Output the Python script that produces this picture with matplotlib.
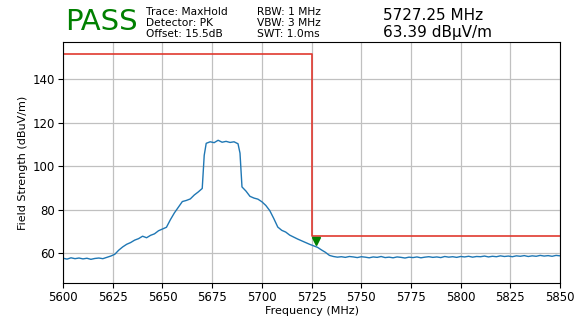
import matplotlib
matplotlib.use("Agg")
import matplotlib.pyplot as plt

# trace (MHz, dBuV/m)
freq = [5600, 5602, 5604, 5606, 5608, 5610, 5612, 5614, 5616, 5618,
        5620, 5622, 5624, 5626, 5628, 5630, 5632, 5634, 5636, 5638,
        5640, 5642, 5644, 5646, 5648, 5650, 5652, 5654, 5656, 5658,
        5660, 5662, 5664, 5666, 5668, 5670, 5671, 5672, 5674, 5676,
        5678, 5680, 5682, 5684, 5686, 5688, 5689, 5690, 5692, 5694,
        5696, 5698, 5700, 5702, 5704, 5706, 5708, 5710, 5712, 5714,
        5716, 5718, 5720, 5722, 5724, 5726, 5728, 5730, 5732, 5734,
        5736, 5738, 5740, 5742, 5744, 5746, 5748, 5750, 5752, 5754,
        5756, 5758, 5760, 5762, 5764, 5766, 5768, 5770, 5772, 5774,
        5776, 5778, 5780, 5782, 5784, 5786, 5788, 5790, 5792, 5794,
        5796, 5798, 5800, 5802, 5804, 5806, 5808, 5810, 5812, 5814,
        5816, 5818, 5820, 5822, 5824, 5826, 5828, 5830, 5832, 5834,
        5836, 5838, 5840, 5842, 5844, 5846, 5848, 5850]
level = [57.8, 57.4, 58.0, 57.6, 57.9, 57.5, 57.8, 57.3, 57.7, 57.9,
         57.6, 58.2, 58.8, 59.6, 61.5, 63.0, 64.2, 65.0, 66.1, 66.8,
         67.9, 67.2, 68.3, 69.0, 70.4, 71.2, 72.0, 75.5, 78.6, 81.2,
         83.8, 84.3, 85.0, 86.8, 88.2, 89.8, 105.0, 110.5, 111.2, 110.8,
         111.9, 111.0, 111.4, 110.9, 111.2, 110.3, 106.0, 90.5, 88.6, 86.2,
         85.4, 84.9, 83.7, 82.0, 79.6, 76.0, 72.1, 70.6, 69.8, 68.4,
         67.5, 66.6, 65.8, 65.0, 64.2, 63.5, 62.8, 61.6, 60.5, 59.1,
         58.6, 58.3, 58.5, 58.2, 58.6, 58.4, 58.1, 58.5, 58.3, 58.0,
         58.4, 58.2, 58.6, 58.1, 58.3, 58.0, 58.4, 58.2, 57.9, 58.3,
         58.1, 58.4, 58.0, 58.3, 58.5, 58.2, 58.4, 58.1, 58.6, 58.3,
         58.5, 58.2, 58.6, 58.4, 58.7, 58.3, 58.6, 58.5, 58.8, 58.4,
         58.7, 58.5, 58.9, 58.6, 58.8, 58.5, 58.9, 58.7, 59.0, 58.6,
         58.9, 58.7, 59.1, 58.8, 59.0, 58.7, 59.1, 58.9]

# limit line
limit_f = [5600, 5725, 5725, 5850]
limit_v = [151.5, 151.5, 68.2, 68.2]

marker_f = 5727.25
marker_v = 63.39

fig = plt.figure(figsize=(5.84, 3.2), dpi=100)
ax = fig.add_axes([0.108, 0.116, 0.851, 0.753])

ax.plot(freq, level, color='#1f77b4', lw=1.0)
ax.plot(limit_f, limit_v, color='#e0392f', lw=1.2)
ax.plot(marker_f, marker_v + 2.3, 'v', color='green', markersize=6)

ax.set_xlim(5600, 5850)
ax.set_ylim(46.5, 157)
ax.set_xticks(range(5600, 5851, 25))
ax.set_yticks([60, 80, 100, 120, 140])
ax.tick_params(labelsize=8.5, pad=2.5)
ax.grid(True, color='#c0c0c0', lw=0.9)
ax.set_xlabel("Frequency (MHz)", fontsize=8, labelpad=1)
ax.set_ylabel("Field Strength (dBuV/m)", fontsize=8, labelpad=3)

fig.text(0.111, 0.93, "PASS", color='green', fontsize=21, va='center')
fig.text(0.25, 0.928, "Trace: MaxHold\nDetector: PK\nOffset: 15.5dB",
         fontsize=7.7, va='center', linespacing=1.1)
fig.text(0.44, 0.928, "RBW: 1 MHz\nVBW: 3 MHz\nSWT: 1.0ms",
         fontsize=7.7, va='center', linespacing=1.1)
fig.text(0.655, 0.925, f"{marker_f} MHz\n{marker_v} dBµV/m",
         fontsize=11, va='center', linespacing=1.1)

fig.savefig("out.png", dpi=100)
